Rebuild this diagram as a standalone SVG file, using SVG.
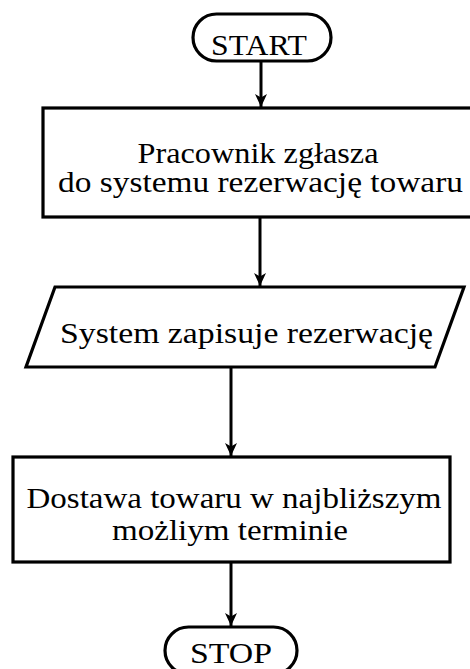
<svg xmlns="http://www.w3.org/2000/svg" width="470" height="669" viewBox="0 0 470 669">
<defs>
<style>
.shape{fill:#fff;stroke:#000;stroke-width:3.2}
.t{font-family:"Liberation Serif","Times New Roman",serif;font-size:29px;fill:#000;text-anchor:middle}
.edge{stroke:#000;stroke-width:3;fill:none}
</style>
<marker id="ah" markerUnits="userSpaceOnUse" markerWidth="14" markerHeight="14" viewBox="0 0 14 14" refX="13" refY="7" orient="auto">
<path d="M0,1 L13,7 L0,13 L3.5,7 z" fill="#000"/>
</marker>
</defs>
<g id="connectors">
<line class="edge" x1="261" y1="61" x2="261" y2="107" marker-end="url(#ah)"/>
<line class="edge" x1="260" y1="217" x2="260" y2="286" marker-end="url(#ah)"/>
<line class="edge" x1="231" y1="367" x2="231" y2="456" marker-end="url(#ah)"/>
<line class="edge" x1="231" y1="562" x2="231" y2="626" marker-end="url(#ah)"/>
</g>
<g id="start">
<rect class="shape" x="193" y="14" width="138" height="47" rx="23.5"/>
<text class="t" x="259" y="55" textLength="96" lengthAdjust="spacingAndGlyphs">START</text>
</g>
<g id="report">
<rect class="shape" x="43" y="108" width="436" height="109"/>
<text class="t" x="258" y="163" textLength="241" lengthAdjust="spacingAndGlyphs">Pracownik zgłasza</text>
<text class="t" x="260.5" y="192" textLength="405" lengthAdjust="spacingAndGlyphs">do systemu rezerwację towaru</text>
</g>
<g id="save">
<polygon class="shape" points="55,287 464,287 435,367 26,367"/>
<text class="t" x="246.5" y="343" textLength="373" lengthAdjust="spacingAndGlyphs">System zapisuje rezerwację</text>
</g>
<g id="delivery">
<rect class="shape" x="13" y="457" width="437" height="105"/>
<text class="t" x="234" y="508" textLength="415" lengthAdjust="spacingAndGlyphs">Dostawa towaru w najbliższym</text>
<text class="t" x="230" y="540" textLength="236" lengthAdjust="spacingAndGlyphs">możliym terminie</text>
</g>
<g id="stop">
<rect class="shape" x="165" y="627" width="132" height="47" rx="23.5"/>
<text class="t" x="231" y="663" textLength="82" lengthAdjust="spacingAndGlyphs">STOP</text>
</g>
</svg>
